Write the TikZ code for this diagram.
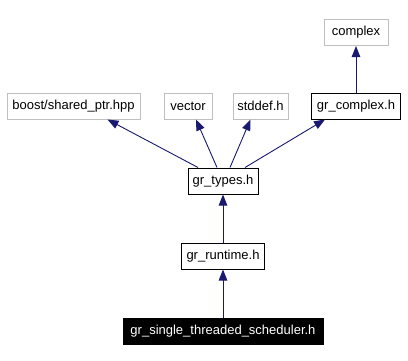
\documentclass[tikz,border=0pt]{standalone}
\usepackage{fontspec}
\setmainfont{Liberation Sans}
\usetikzlibrary{arrows.meta}
\definecolor{edgeblue}{HTML}{191970}
\definecolor{extgray}{HTML}{BFBFBF}
\begin{document}
\begin{tikzpicture}[x=1pt,y=-1pt,
  every node/.style={font=\fontsize{13}{15}\selectfont, inner sep=0pt, minimum height=26pt, line width=1pt},
  extbox/.style={draw=extgray, fill=white},
  hdrbox/.style={draw=black, fill=white},
  curbox/.style={draw=black, fill=black, text=white},
  dep/.style={draw=edgeblue, line width=0.9pt, -{Triangle[length=11pt,width=8.5pt]}}]
  \useasboundingbox[fill=white] (0,0) rectangle (408,360);

  % header nodes
  \node[extbox, minimum width=64pt]  (complex)  at (356,32.5)  {complex};
  \node[extbox, minimum width=133pt] (boost)    at (73.5,106)  {boost/shared\_ptr.hpp};
  \node[extbox, minimum width=48pt]  (vector)   at (188,106)   {vector};
  \node[extbox, minimum width=55pt]  (stddef)   at (260.5,106) {stddef.h};
  \node[hdrbox, minimum width=89pt]  (grcomplex) at (356,106) {gr\_complex.h};
  \node[hdrbox, minimum width=70pt]  (grtypes)  at (223,181)   {gr\_types.h};
  \node[hdrbox, minimum width=83pt]  (grruntime) at (223,256) {gr\_runtime.h};
  \node[curbox, minimum width=200pt] (sched)    at (223,331)   {gr\_single\_threaded\_scheduler.h};

  % include dependencies
  \draw[dep] (grcomplex.north) -- (complex.south);
  \draw[dep] ([xshift=-25pt]grtypes.north) -- ([xshift=34pt]boost.south);
  \draw[dep] ([xshift=-6pt]grtypes.north) -- ([xshift=8pt]vector.south);
  \draw[dep] ([xshift=7pt]grtypes.north) -- ([xshift=-10pt]stddef.south);
  \draw[dep] ([xshift=22pt]grtypes.north) -- ([xshift=-31pt]grcomplex.south);
  \draw[dep] (grruntime.north) -- (grtypes.south);
  \draw[dep] (sched.north) -- (grruntime.south);
\end{tikzpicture}
\end{document}
